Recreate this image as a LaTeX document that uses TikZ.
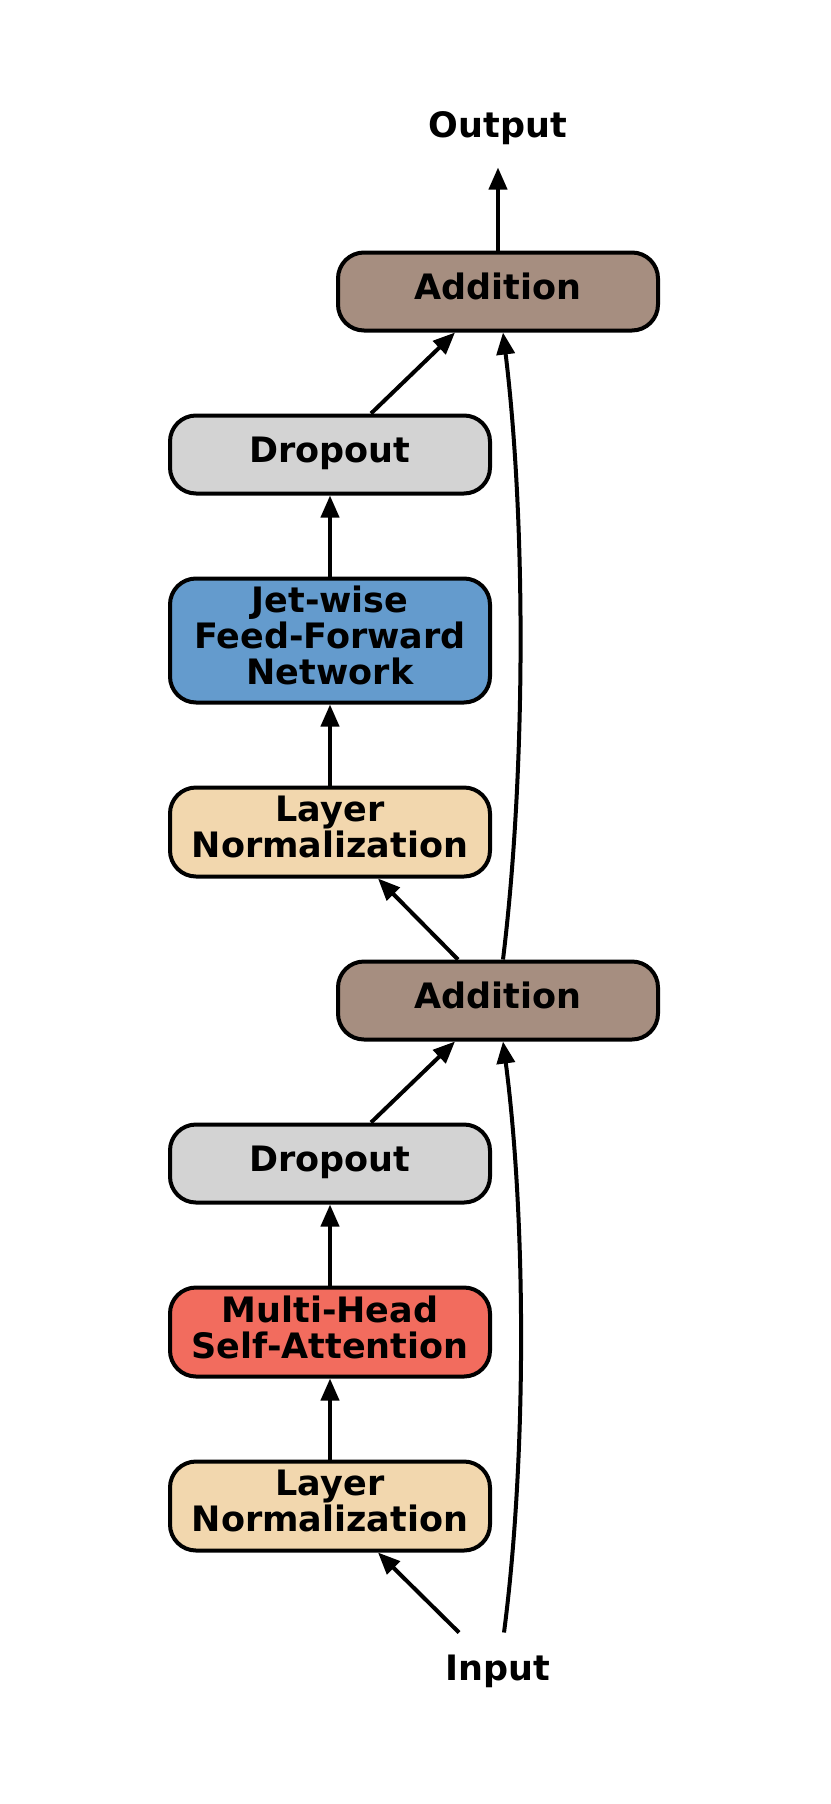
\documentclass[tikz,border=0pt]{standalone}
\usepackage{fontspec}
\setmainfont{DejaVu Sans}
\usetikzlibrary{positioning,arrows.meta}

\definecolor{addcol}{RGB}{166,142,128}
\definecolor{dropcol}{RGB}{211,211,211}
\definecolor{normcol}{RGB}{242,215,174}
\definecolor{attcol}{RGB}{242,108,94}
\definecolor{ffncol}{RGB}{100,155,205}

\begin{document}
\begin{tikzpicture}[
  node distance=40.5pt,
  box/.style={draw, line width=2pt, rounded corners=13pt, align=center,
              font={\fontsize{17.5}{18}\selectfont\bfseries}, text depth=5pt,
              minimum width=160pt, minimum height=39pt, inner sep=2pt},
  addbox/.style={box, fill=addcol},
  dropbox/.style={box, fill=dropcol},
  normbox/.style={box, fill=normcol, minimum height=44.5pt},
  lbl/.style={font={\fontsize{17.5}{18}\selectfont\bfseries}, inner sep=0pt},
  arr/.style={-{Triangle[length=11pt,width=9pt]}, line width=2pt}]
  \useasboundingbox (0,0) rectangle (415pt,-902pt);
  \node[normbox] (ln2) at (165pt,-753pt) {Layer\\Normalization};
  \node[box, fill=attcol, minimum height=44.5pt, above=of ln2] (mhsa) {Multi-Head\\Self-Attention};
  \node[dropbox, above=of mhsa] (drop2) {Dropout};
  \node[addbox, above=of drop2, xshift=84pt] (addB) {Addition};
  \node[normbox, above=of addB, xshift=-84pt] (ln1) {Layer\\Normalization};
  \node[box, fill=ffncol, minimum height=62pt, above=of ln1] (ffn) {Jet-wise\\Feed-Forward\\Network};
  \node[dropbox, above=of ffn] (drop1) {Dropout};
  \node[addbox, above=of drop1, xshift=84pt] (addA) {Addition};
  \node[lbl, above=52.8pt of addA] (out) {Output};
  \node[lbl, below=51pt of ln2, xshift=84pt] (inp) {Input};
  % first block
  \draw[arr] ([xshift=-19.5pt,yshift=11pt]inp.north) -- ([xshift=24pt]ln2.south);
  \draw[arr] (ln2) -- (mhsa);
  \draw[arr] (mhsa) -- (drop2);
  \draw[arr] ([xshift=20.5pt]drop2.north) -- ([xshift=-21.5pt]addB.south);
  \draw[arr] ([xshift=3pt,yshift=11pt]inp.north)
    .. controls ([xshift=14.5pt,yshift=99pt]inp.north) and ([xshift=14pt,yshift=-88pt]addB.south)
    .. ([xshift=2.5pt]addB.south);
  % second block
  \draw[arr] ([xshift=-20pt]addB.north) -- ([xshift=24pt]ln1.south);
  \draw[arr] (ln1) -- (ffn);
  \draw[arr] (ffn) -- (drop1);
  \draw[arr] ([xshift=20.5pt]drop1.north) -- ([xshift=-21.5pt]addA.south);
  \draw[arr] ([xshift=2.5pt]addB.north)
    .. controls ([xshift=14pt,yshift=94pt]addB.north) and ([xshift=14pt,yshift=-94pt]addA.south)
    .. ([xshift=2.5pt]addA.south);
  \draw[arr, shorten >=11.3pt] (addA.north) -- (out.south);
\end{tikzpicture}
\end{document}
